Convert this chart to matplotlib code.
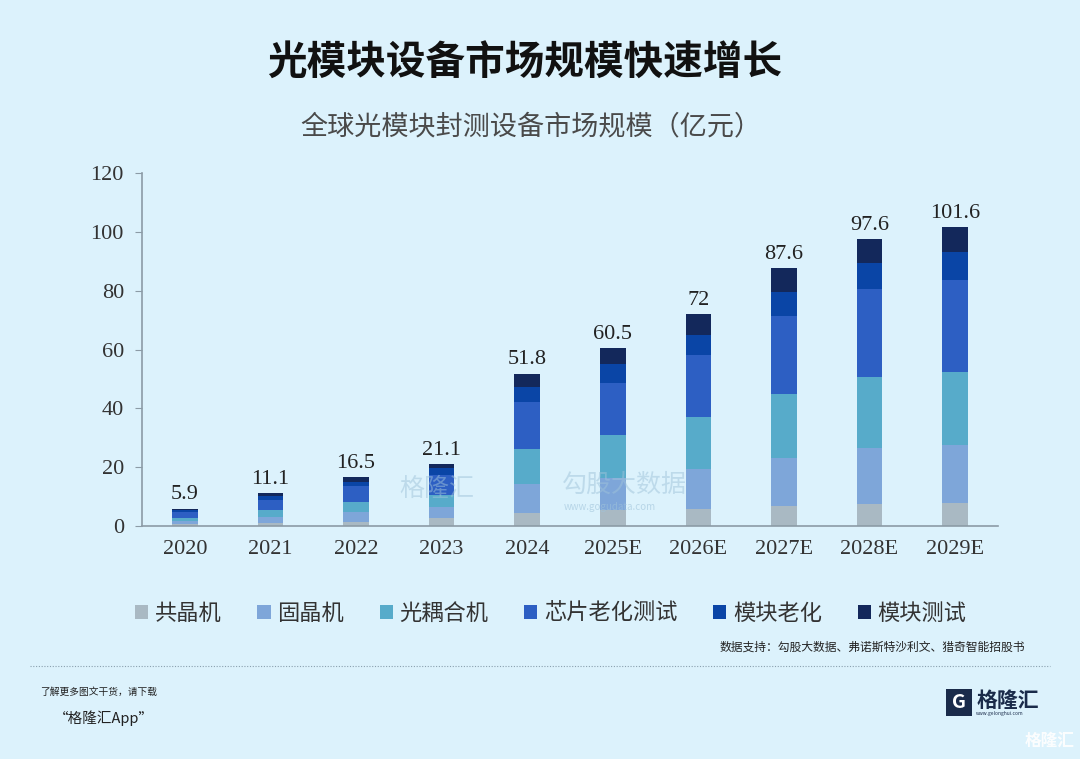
import matplotlib
matplotlib.use('Agg')
import matplotlib.pyplot as plt
import numpy as np
from matplotlib.patches import Rectangle

plt.rcParams['font.family'] = ['Noto Sans CJK SC', 'DejaVu Sans']

# data (亿元)
years = ['2020', '2021', '2022', '2023', '2024', '2025E', '2026E', '2027E', '2028E', '2029E']
totals = [5.9, 11.1, 16.5, 21.1, 51.8, 60.5, 72, 87.6, 97.6, 101.6]
series_names = ['共晶机', '固晶机', '光耦合机', '芯片老化测试', '模块老化', '模块测试']
gongjing = [0.6, 1.1, 1.5, 2.6, 4.3, 5.4, 5.8, 6.9, 7.5, 7.7]
gujing = [1.0, 1.8, 3.4, 4.0, 9.9, 10.8, 13.6, 16.3, 18.9, 19.7]
guangou = [1.2, 2.5, 3.3, 3.9, 11.9, 14.6, 17.5, 21.7, 24.2, 24.8]
xinpian = [1.8, 3.4, 5.3, 6.8, 16.2, 17.9, 21.2, 26.5, 29.9, 31.4]
mokuai_laohua = [0.7, 1.4, 1.5, 2.5, 4.8, 6.4, 6.8, 8.2, 8.8, 9.4]
mokuai_ceshi = [0.6, 0.9, 1.5, 1.3, 4.7, 5.4, 7.1, 8.0, 8.3, 8.6]
colors = ['#A9B9C3', '#7EA6D9', '#57ABCA', '#2D5FC3', '#0A45A6', '#13285B']

bg = '#DCF2FC'
fig = plt.figure(figsize=(10.8, 7.59), dpi=100, facecolor=bg)
ax = fig.add_axes([0.1315, 0.307, 0.7925, 0.465])
ax.set_facecolor(bg)

x = np.arange(len(years))
bottom = np.zeros(len(years))
for name, vals, c in zip(series_names,
                         [gongjing, gujing, guangou, xinpian, mokuai_laohua, mokuai_ceshi],
                         colors):
    ax.bar(x, vals, 0.3, bottom=bottom, color=c, label=name, linewidth=0)
    bottom += np.array(vals)

for xi, t in zip(x, totals):
    ax.text(xi, t + 1.5, f'{t:g}', ha='center', va='bottom', fontsize=16,
            family='Liberation Serif', color='#222222')

ax.set_xlim(-0.5, 9.5)
ax.set_ylim(0, 120)
ax.set_yticks(range(0, 121, 20))
ax.set_xticks(x)
ax.set_xticklabels(years)
for lab in ax.get_xticklabels() + ax.get_yticklabels():
    lab.set_family('Liberation Serif')
    lab.set_fontsize(16)
    lab.set_color('#333333')
for s in ['top', 'right']:
    ax.spines[s].set_visible(False)
for s in ['left', 'bottom']:
    ax.spines[s].set_color('#8C9BA6')
    ax.spines[s].set_linewidth(1.2)
ax.tick_params(axis='y', length=5, color='#8C9BA6', pad=8)
ax.tick_params(axis='x', length=0, pad=10)

fig.text(0.486, 0.917, '光模块设备市场规模快速增长', ha='center', va='center',
         fontsize=28.5, fontweight='bold', color='#111111')
fig.text(0.492, 0.833, '全球光模块封测设备市场规模（亿元）', ha='center', va='center',
         fontsize=19.5, color='#4A4A4A')

leg = fig.legend(loc='center', bbox_to_anchor=(0.51, 0.192), ncol=6, frameon=False,
                 fontsize=16, handlelength=0.6, handleheight=0.6, handletextpad=0.3,
                 columnspacing=1.6)
for t in leg.get_texts():
    t.set_color('#333333')

fig.text(0.949, 0.147, '数据支持：勾股大数据、弗诺斯特沙利文、猎奇智能招股书', ha='right',
         va='center', fontsize=8.5, color='#222222')

fig.add_artist(plt.Line2D([0.028, 0.972], [1 - 666 / 759, 1 - 666 / 759], transform=fig.transFigure,
                          color='#8AA0AE', linestyle=(0, (1, 1.5)), linewidth=0.8))

fig.text(0.037, 1 - 692 / 759, '了解更多图文干货，请下载', fontsize=7, style='italic',
         va='center', color='#222222')
fig.text(0.05, 1 - 718 / 759, '“格隆汇App”', fontsize=10.5, style='italic',
         va='center', color='#222222')

# logo
fig.add_artist(Rectangle((0.876, 1 - 716 / 759), 0.024, 0.036, transform=fig.transFigure,
                         facecolor='#1A2B4A', edgecolor='none'))
fig.text(0.888, 1 - 703 / 759, 'G', fontsize=14, fontweight='bold', color='white',
         ha='center', va='center')
fig.text(0.904, 1 - 700 / 759, '格隆汇', fontsize=15, fontweight='bold', color='#1A2B4A',
         va='center')
fig.text(0.904, 1 - 714 / 759, 'www.gelonghui.com', fontsize=3.5, color='#1A2B4A', va='center')
fig.text(0.995, 1 - 741 / 759, '格隆汇', fontsize=12, color='white', ha='right', va='center',
         alpha=0.9, fontweight='bold')

# watermark
fig.text(0.37, 1 - 489 / 759, '格隆汇', fontsize=18, color='#9FC3DA', alpha=0.5, va='center')
fig.text(0.52, 1 - 485 / 759, '勾股大数据', fontsize=18, color='#9FC3DA', alpha=0.5, va='center')
fig.text(0.522, 1 - 507 / 759, 'www.gogudata.com', fontsize=7, color='#9FC3DA', alpha=0.6,
         va='center')

fig.savefig('out.png', dpi=100, facecolor=bg)
